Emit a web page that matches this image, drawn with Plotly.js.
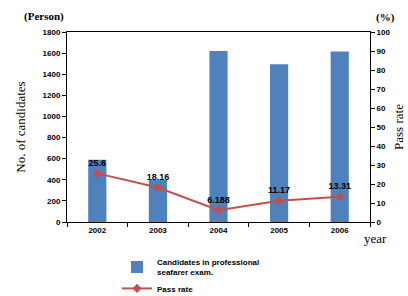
<!DOCTYPE html>
<html><head><meta charset="utf-8">
<script src="https://cdn.plot.ly/plotly-3.0.1.min.js"></script>
<style>html,body{margin:0;padding:0;background:#fff}#c{width:408px;height:296px}</style>
</head><body><div id="c"></div>
<script>
const years = ['2002','2003','2004','2005','2006'];
const candidates = [590, 400, 1620, 1495, 1615];
const passRate = [25.6, 18.16, 6.188, 11.17, 13.31];
const passRateLabels = ['25.6','18.16','6.188','11.17','13.31'];
const leftTicks = [0,200,400,600,800,1000,1200,1400,1600,1800];
const rightTicks = [0,10,20,30,40,50,60,70,80,90,100];

const tickFont = {family:'Liberation Sans, Arial, sans-serif', size:8, color:'#000', weight:'bold'};
const serif = 'Liberation Serif, Times New Roman, serif';

const data = [
  {type:'bar', x:years, y:candidates, name:'Candidates in professional<br>seafarer exam.',
   marker:{color:'#4F81BD'}, yaxis:'y'},
  {type:'scatter', mode:'lines+markers+text', x:years, y:passRate, yaxis:'y2',
   name:'Pass rate', text:passRateLabels, textposition:'top center',
   textfont:{family:'Liberation Sans, Arial, sans-serif', size:9, color:'#000', weight:'bold'},
   line:{color:'#C0504D', width:2}, marker:{symbol:'diamond', size:7, color:'#C0504D'}}
];
const layout = {
  width:408, height:296, margin:{l:67, r:38, t:32, b:74, autoexpand:false},
  paper_bgcolor:'#fff', plot_bgcolor:'#fff',
  bargap:0.7, showlegend:true,
  legend:{orientation:'v', x:0.165, xanchor:'left', y:-0.148, yanchor:'top',
    font:{family:'Liberation Sans, Arial, sans-serif', size:8, color:'#000', weight:'bold'},
    tracegroupgap:0, bgcolor:'rgba(0,0,0,0)'},
  xaxis:{type:'category', tickson:'boundaries', ticks:'outside', ticklen:4, tickcolor:'#000',
    showline:true, linecolor:'#000', linewidth:1, mirror:true, showgrid:false,
    tickfont:tickFont, fixedrange:true},
  yaxis:{range:[0,1800], tickvals:leftTicks, ticks:'outside', ticklen:4, tickcolor:'#000',
    showline:true, linecolor:'#000', linewidth:1, showgrid:false, zeroline:false,
    tickfont:tickFont,
    title:{text:'No. of candidates', font:{family:serif, size:13, color:'#000'}, standoff:14}},
  yaxis2:{overlaying:'y', side:'right', range:[0,100], tickvals:rightTicks, ticks:'outside', ticklen:4,
    tickcolor:'#000', showline:true, linecolor:'#000', linewidth:1, showgrid:false, zeroline:false,
    tickfont:tickFont,
    title:{text:'Pass rate', font:{family:serif, size:13, color:'#000'}, standoff:4}},
  annotations:[
    {text:'(Person)', xref:'paper', yref:'paper', x:-0.075, y:1.08, xanchor:'center', yanchor:'middle',
     showarrow:false, font:{family:serif, size:11, color:'#000', weight:'bold'}},
    {text:'(%)', xref:'paper', yref:'paper', x:1.05, y:1.075, xanchor:'center', yanchor:'middle',
     showarrow:false, font:{family:serif, size:11, color:'#000', weight:'bold'}},
    {text:'year', xref:'paper', yref:'paper', x:0.975, y:-0.085, xanchor:'left', yanchor:'middle',
     showarrow:false, font:{family:serif, size:13, color:'#000'}}
  ]
};
Plotly.newPlot('c', data, layout, {displayModeBar:false, staticPlot:true});
</script></body></html>
